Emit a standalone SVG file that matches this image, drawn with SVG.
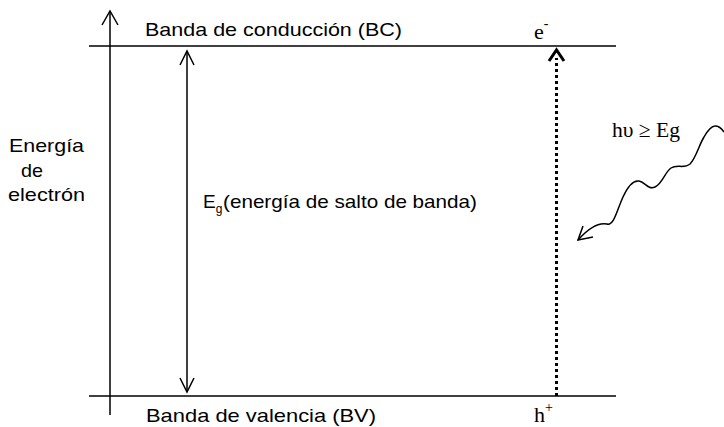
<svg xmlns="http://www.w3.org/2000/svg" width="724" height="427" viewBox="0 0 724 427">
<style>
.ln{stroke:#000;stroke-width:1.5;fill:none}
.sans{font-family:"Liberation Sans",Arial,sans-serif;font-size:19px;fill:#000}
.serif{font-family:"Liberation Serif","Times New Roman",serif;font-size:22px;fill:#000}
</style>
<rect width="724" height="427" fill="#fff"/>
<g id="axis">
<line class="ln" x1="110" y1="11" x2="110" y2="415"/>
<polyline class="ln" points="102,25 110,11 118,25"/>
<text class="sans" x="9" y="152" textLength="75" lengthAdjust="spacingAndGlyphs">Energía</text>
<text class="sans" x="21" y="177" textLength="22" lengthAdjust="spacingAndGlyphs">de</text>
<text class="sans" x="8" y="201" textLength="77" lengthAdjust="spacingAndGlyphs">electrón</text>
</g>
<g id="bc">
<line class="ln" x1="89" y1="46" x2="616" y2="46"/>
<text class="sans" x="145" y="36" textLength="257" lengthAdjust="spacingAndGlyphs">Banda de conducción (BC)</text>
<text class="serif" x="534" y="39">e<tspan dy="-11" font-size="14">-</tspan></text>
</g>
<g id="bv">
<line class="ln" x1="89" y1="396" x2="616" y2="396"/>
<text class="sans" x="146" y="422" textLength="230" lengthAdjust="spacingAndGlyphs">Banda de valencia (BV)</text>
<text class="serif" x="534" y="422" font-size="21">h<tspan dy="-10" font-size="14">+</tspan></text>
</g>
<g id="gap">
<text class="sans" x="203" y="208" font-size="18">E<tspan dy="5" font-size="12">g</tspan></text>
<text class="sans" x="223" y="208" textLength="254" lengthAdjust="spacingAndGlyphs">(energía de salto de banda)</text>
</g>
<g id="photon">
<text class="serif" x="612" y="137" textLength="68" lengthAdjust="spacingAndGlyphs">hυ ≥ Eg</text>
</g>
<g id="connectors">
<line class="ln" x1="187" y1="51" x2="187" y2="391"/>
<polyline class="ln" points="180,65 187,51 194,65"/>
<polyline class="ln" points="180,378 187,392 194,378"/>
<line x1="556.5" y1="396" x2="556.5" y2="58" stroke="#000" stroke-width="3" stroke-dasharray="3,3"/>
<polyline points="549,61 556.5,50 564,61" stroke="#000" stroke-width="3" fill="none"/>
<path class="ln" d="M578,240 C586,231 597,222 607,224 C614,226 617,210 623,197 C628,186 633,180 639,181 C645,182 648,190 655,187 C662,184 665,172 671,168 C677,164 684,169 690,164 C696,158 699,145 704,137 C708,130 711,126 715,126 C719,126 722,129 724,132"/>
<polyline class="ln" points="583,226 578,240 593,237"/>
</g>
</svg>
